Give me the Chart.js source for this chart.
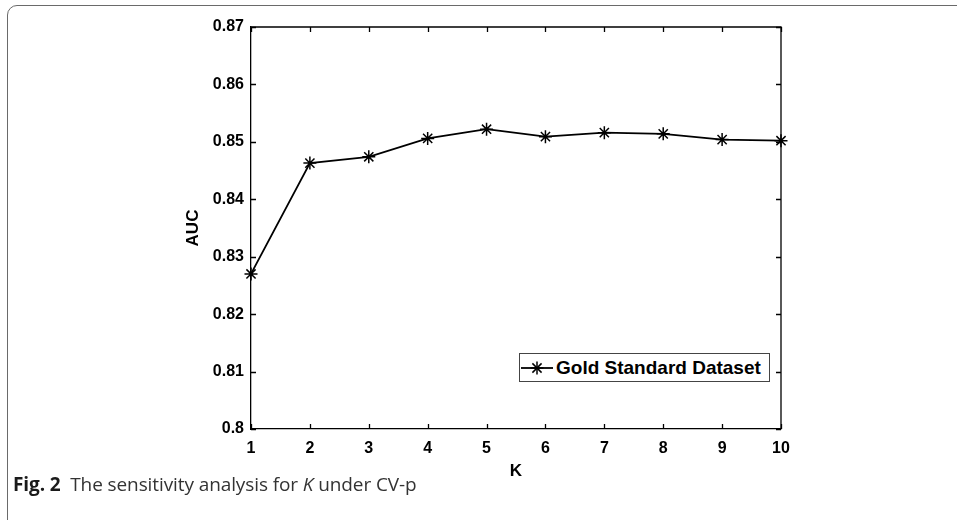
<!DOCTYPE html>
<html>
<head>
<meta charset="utf-8">
<script src="https://cdn.jsdelivr.net/npm/chart.js@4/dist/chart.umd.min.js"></script>
<style>
  html, body { margin: 0; padding: 0; background: #fff; }
  #wrap { position: relative; width: 957px; height: 520px; overflow: hidden; }
  #frame { position: absolute; left: 7px; top: 5px; width: 1000px; height: 530px;
           border: 1.5px solid #6a6a6a; border-radius: 10px; box-sizing: border-box; }
  #cv { position: absolute; left: 0; top: 0; }
  #legend { position: absolute; left: 519px; top: 353px; width: 251px; height: 29px; box-sizing: border-box;
            border: 1px solid #444; background: #fff; font-family: "Liberation Sans", Arial, sans-serif;
            font-weight: bold; font-size: 19px; color: #000; display: flex; align-items: center; white-space: nowrap; }
  #legend svg { margin-left: 1px; margin-right: 3px; }
  #caption { position: absolute; left: 13px; top: 471px; font-family: "Open Sans", "Noto Sans", sans-serif;
             font-size: 19px; color: #333; white-space: nowrap; letter-spacing: -0.1px; }
  #caption b { color: #1a1a1a; }
</style>
</head>
<body>
<div id="wrap">
  <div id="frame"></div>
  <canvas id="cv" width="957" height="520"></canvas>
  <div id="legend"></div>
  <div id="caption"><b>Fig. 2</b>&nbsp; The sensitivity analysis for <i>K</i> under CV-p</div>
</div>
<script>
// ---- data ----
const kValues = [1, 2, 3, 4, 5, 6, 7, 8, 9, 10];
const aucValues = [0.8270, 0.8463, 0.8474, 0.8506, 0.8522, 0.8509, 0.8516, 0.8514, 0.8504, 0.8502];
const seriesName = "Gold Standard Dataset";
const xTitle = "K";
const yTitle = "AUC";
const yMin = 0.8, yMax = 0.87, yStep = 0.01;
const xMin = 1, xMax = 10, xStep = 1;

const tickFont = { family: "'Liberation Sans', Arial, sans-serif", size: 16, weight: 'bold' };
const titleFont = { family: "'Liberation Sans', Arial, sans-serif", size: 17, weight: 'bold' };

// legend (HTML)
document.getElementById('legend').innerHTML =
  '<svg width="32" height="16" viewBox="0 0 32 16">' +
  '<line x1="0" y1="8" x2="32" y2="8" stroke="#000" stroke-width="1.8"/>' +
  '<g stroke="#000" stroke-width="1.5">' +
  '<line x1="16" y1="1.5" x2="16" y2="14.5"/><line x1="9.5" y1="8" x2="22.5" y2="8"/>' +
  '<line x1="11.4" y1="3.4" x2="20.6" y2="12.6"/><line x1="11.4" y1="12.6" x2="20.6" y2="3.4"/></g></svg>' +
  '<span>' + seriesName + '</span>';

// inward ticks + box on top/right
const boxTicks = {
  id: 'boxTicks',
  afterDraw(chart) {
    const { ctx, chartArea: a, scales: { x, y } } = chart;
    const L = 5;
    ctx.save();
    ctx.strokeStyle = '#000';
    ctx.lineWidth = 1.3;
    ctx.beginPath();
    ctx.moveTo(a.left, a.top); ctx.lineTo(a.right, a.top); ctx.lineTo(a.right, a.bottom);
    ctx.stroke();
    ctx.beginPath();
    x.ticks.forEach(t => {
      const px = Math.round(x.getPixelForValue(t.value)) + 0.5;
      ctx.moveTo(px, a.bottom); ctx.lineTo(px, a.bottom - L);
      ctx.moveTo(px, a.top); ctx.lineTo(px, a.top + L);
    });
    y.ticks.forEach(t => {
      const py = Math.round(y.getPixelForValue(t.value)) + 0.5;
      ctx.moveTo(a.left, py); ctx.lineTo(a.left + L, py);
      ctx.moveTo(a.right, py); ctx.lineTo(a.right - L, py);
    });
    ctx.stroke();
    ctx.restore();
  }
};

new Chart(document.getElementById('cv'), {
  type: 'line',
  data: {
    datasets: [{
      label: seriesName,
      data: kValues.map((k, i) => ({ x: k, y: aucValues[i] })),
      borderColor: '#000',
      backgroundColor: '#000',
      borderWidth: 1.8,
      pointStyle: 'star',
      pointRadius: 6.5,
      pointBorderWidth: 1.5,
      pointBorderColor: '#000',
      tension: 0,
      clip: false
    }]
  },
  options: {
    responsive: false,
    animation: false,
    devicePixelRatio: 1,
    layout: { padding: { left: 183, top: 27, right: 176, bottom: 38 } },
    plugins: { legend: { display: false }, tooltip: { enabled: false } },
    scales: {
      x: {
        type: 'linear', min: xMin, max: xMax,
        afterFit(s) { s.height = 53; },
        grid: { display: false, drawTicks: false },
        border: { display: true, color: '#000', width: 1.3 },
        ticks: { stepSize: xStep, font: tickFont, color: '#000', padding: 10, maxRotation: 0 },
        title: { display: true, text: xTitle, font: titleFont, color: '#000', padding: 0 }
      },
      y: {
        min: yMin, max: yMax,
        afterFit(s) { s.width = 68; },
        grid: { display: false, drawTicks: false },
        border: { display: true, color: '#000', width: 1.3 },
        ticks: { stepSize: yStep, font: tickFont, color: '#000', padding: 7,
                 callback: v => String(Number(v.toFixed(2))) },
        title: { display: true, text: yTitle, font: titleFont, color: '#000', padding: 0 }
      }
    }
  },
  plugins: [boxTicks]
});
</script>
</body>
</html>
